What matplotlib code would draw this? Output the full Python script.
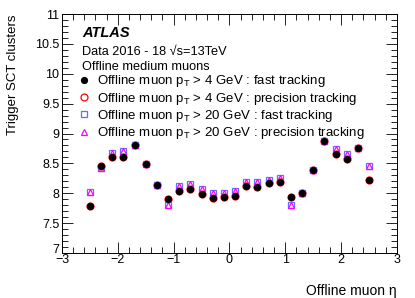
import matplotlib
matplotlib.use("Agg")
import matplotlib.pyplot as plt
import matplotlib.transforms as mtransforms
from matplotlib.ticker import MultipleLocator
import numpy as np

plt.rcParams['font.family'] = ['Liberation Sans', 'DejaVu Sans']
plt.rcParams['mathtext.fontset'] = 'custom'
plt.rcParams['mathtext.rm'] = 'Liberation Sans'
plt.rcParams['mathtext.it'] = 'Liberation Sans:italic'

# bin centres in eta
eta = [-2.5, -2.3, -2.1, -1.9, -1.7, -1.5, -1.3, -1.1, -0.9, -0.7, -0.5, -0.3, -0.1,
       0.1, 0.3, 0.5, 0.7, 0.9, 1.1, 1.3, 1.5, 1.7, 1.9, 2.1, 2.3, 2.5]

# pT > 4 GeV
fast_4 = [7.79, 8.46, 8.60, 8.60, 8.81, 8.49, 8.13, 7.91, 8.04, 8.07, 7.98, 7.92, 7.93,
          7.95, 8.12, 8.11, 8.17, 8.19, 7.93, 8.00, 8.39, 8.87, 8.65, 8.57, 8.75, 8.23]
prec_4 = [7.79, 8.46, 8.60, 8.60, 8.81, 8.49, 8.13, 7.91, 8.04, 8.07, 7.98, 7.92, 7.93,
          7.95, 8.12, 8.11, 8.17, 8.19, 7.93, 8.00, 8.39, 8.87, 8.65, 8.57, 8.75, 8.23]
# pT > 20 GeV
fast_20 = [8.02, 8.42, 8.68, 8.71, 8.81, 8.49, 8.13, 7.80, 8.12, 8.15, 8.07, 8.00, 8.01,
           8.03, 8.19, 8.18, 8.23, 8.26, 7.80, 8.01, 8.39, 8.87, 8.74, 8.66, 8.75, 8.45]
prec_20 = [8.02, 8.42, 8.68, 8.71, 8.81, 8.49, 8.13, 7.80, 8.12, 8.15, 8.07, 8.00, 8.01,
           8.03, 8.19, 8.18, 8.23, 8.26, 7.80, 8.01, 8.39, 8.87, 8.74, 8.66, 8.75, 8.45]

labels = [r"Offline muon p$_{\mathrm{T}}$ > 4 GeV : fast tracking",
          r"Offline muon p$_{\mathrm{T}}$ > 4 GeV : precision tracking",
          r"Offline muon p$_{\mathrm{T}}$ > 20 GeV : fast tracking",
          r"Offline muon p$_{\mathrm{T}}$ > 20 GeV : precision tracking"]

xticks = [-3, -2, -1, 0, 1, 2, 3]
xticklabels = ['\u22123', '\u22122', '\u22121', '0', '1', '2', '3']
yticks = [7, 7.5, 8, 8.5, 9, 9.5, 10, 10.5, 11]
yticklabels = ['7', '7.5', '8', '8.5', '9', '9.5', '10', '10.5', '11']

fig = plt.figure(figsize=(4.15, 2.98), dpi=100)
ax = fig.add_axes([0.1494, 0.151, 0.8072, 0.802])

ax.plot(eta, fast_4, 'o', color='black', ms=4.2, label=labels[0], zorder=4)
ax.plot(eta, prec_4, 'o', mfc='none', mec='red', mew=0.9, ms=5.0, label=labels[1], zorder=3)
ax.plot(eta, fast_20, 's', mfc='none', mec='#6b6bff', mew=0.9, ms=4.8, label=labels[2], zorder=3)
ax.plot(eta, prec_20, '^', mfc='none', mec='#ff00ff', mew=0.9, ms=4.8, label=labels[3], zorder=3)

ax.set_xlim(-3, 3)
ax.set_ylim(7, 11)
ax.set_xticks(xticks)
ax.set_xticklabels(xticklabels)
ax.set_yticks(yticks)
ax.set_yticklabels(yticklabels)
ax.xaxis.set_minor_locator(MultipleLocator(0.2))
ax.yaxis.set_minor_locator(MultipleLocator(0.1))
ax.tick_params(which='both', direction='in', top=True, right=True, labelsize=9, width=0.6)
ax.tick_params(which='major', length=8)
ax.tick_params(which='minor', length=4)
ax.tick_params(axis='x', pad=1)
ax.tick_params(axis='y', pad=2)
for s in ax.spines.values():
    s.set_linewidth(0.7)

# lift the lowest y label a little, as in the original
lbl7 = ax.get_yticklabels()[0]
lbl7.set_transform(lbl7.get_transform() +
                   mtransforms.ScaledTranslation(0, 3 / 72, fig.dpi_scale_trans))

ax.set_xlabel("Offline muon \u03b7", fontsize=10, loc='right')
ax.xaxis.set_label_coords(1.0, -0.13)
ax.set_ylabel("Trigger SCT clusters", fontsize=9.5, loc='top')
ax.yaxis.set_label_coords(-0.127, 1.0)

ax.text(0.06, 0.92, "ATLAS", transform=ax.transAxes, fontsize=10.5,
        fontweight='bold', fontstyle='italic', va='center')
ax.text(0.06, 0.84, "Data 2016 - 18 \u221as=13TeV", transform=ax.transAxes,
        fontsize=9.2, va='center')
ax.text(0.06, 0.777, "Offline medium muons", transform=ax.transAxes,
        fontsize=9.2, va='center')

ax.legend(loc='upper left', bbox_to_anchor=(0.045, 0.752), frameon=False,
          fontsize=9.5, handlelength=1.0, handletextpad=0.5, labelspacing=0.1,
          borderaxespad=0, borderpad=0)

fig.savefig("out.png", dpi=100)
